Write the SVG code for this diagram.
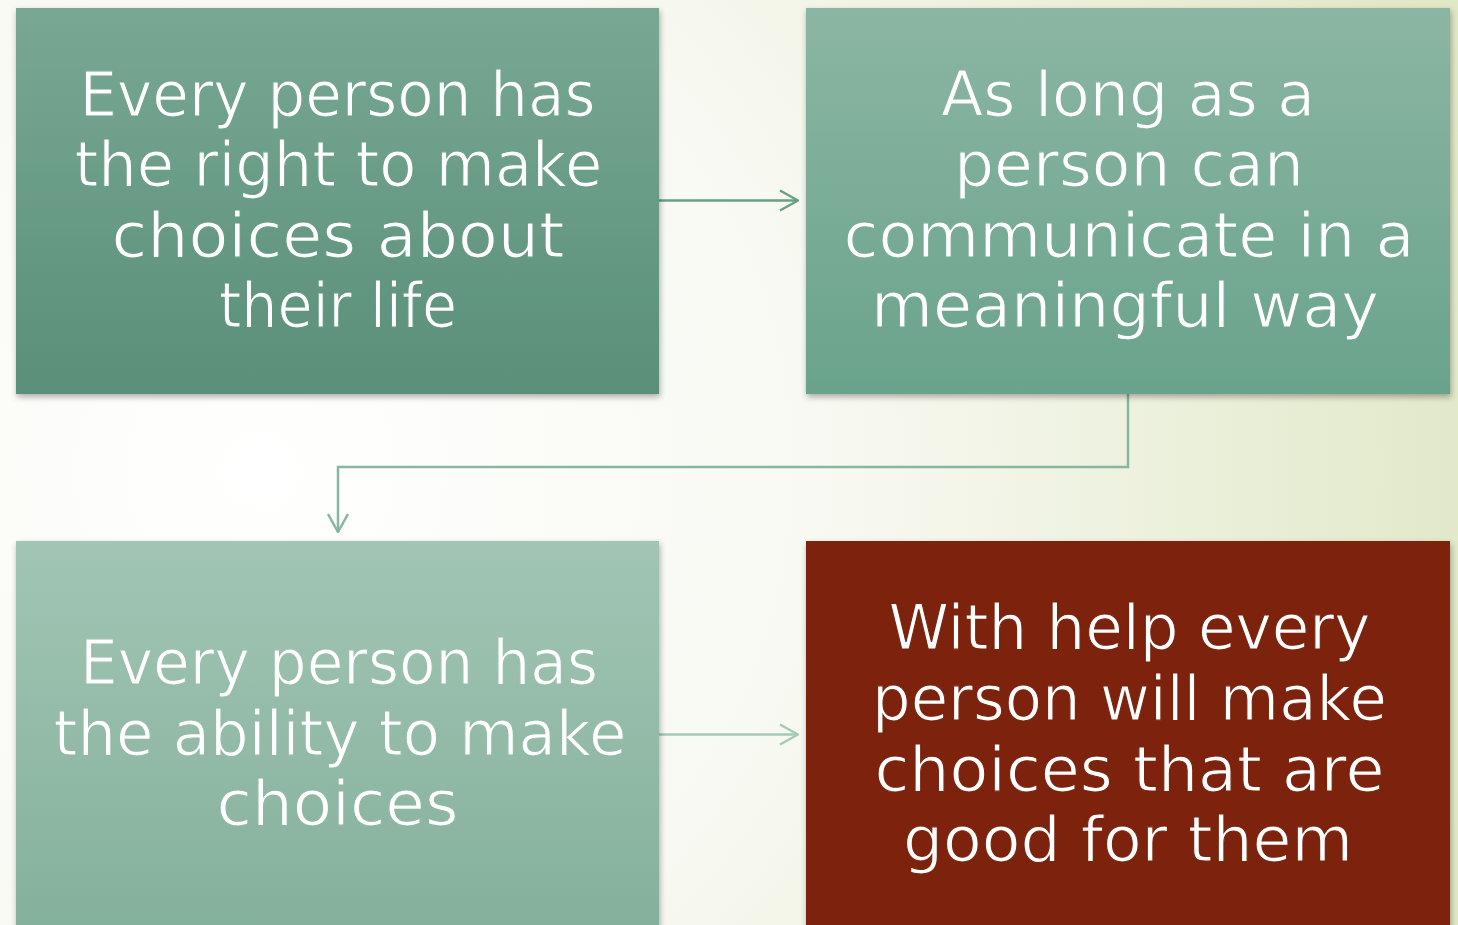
<svg xmlns="http://www.w3.org/2000/svg" width="1458" height="925" viewBox="0 0 1458 925">
  <defs>
    <radialGradient id="bg" gradientUnits="userSpaceOnUse" cx="260" cy="470" r="1250">
      <stop offset="0" stop-color="#ffffff"/>
      <stop offset="0.45" stop-color="#f8f9f2"/>
      <stop offset="1" stop-color="#e0e8c6"/>
    </radialGradient>
    <linearGradient id="g1" gradientUnits="userSpaceOnUse" x1="0" y1="8" x2="0" y2="394">
      <stop offset="0" stop-color="#78a893"/>
      <stop offset="1" stop-color="#5a8f79"/>
    </linearGradient>
    <linearGradient id="g2" gradientUnits="userSpaceOnUse" x1="0" y1="8" x2="0" y2="394">
      <stop offset="0" stop-color="#8bb6a3"/>
      <stop offset="1" stop-color="#6aa38c"/>
    </linearGradient>
    <linearGradient id="g3" gradientUnits="userSpaceOnUse" x1="0" y1="541" x2="0" y2="941">
      <stop offset="0" stop-color="#a2c5b4"/>
      <stop offset="1" stop-color="#83b09b"/>
    </linearGradient>
    <filter id="sh" x="-5%" y="-5%" width="110%" height="115%">
      <feDropShadow dx="1" dy="3" stdDeviation="3" flood-color="#000" flood-opacity="0.32"/>
    </filter>
    <marker id="ah1" viewBox="0 0 20 24" refX="19" refY="12" markerWidth="20" markerHeight="24" markerUnits="userSpaceOnUse" orient="auto">
      <path d="M1,2 L19,12 L1,22" fill="none" stroke="#66a086" stroke-width="2.5"/>
    </marker>
    <marker id="ah2" viewBox="0 0 20 24" refX="19" refY="12" markerWidth="20" markerHeight="24" markerUnits="userSpaceOnUse" orient="auto">
      <path d="M1,2 L19,12 L1,22" fill="none" stroke="#86b7a1" stroke-width="2.5"/>
    </marker>
    <marker id="ah3" viewBox="0 0 20 24" refX="19" refY="12" markerWidth="20" markerHeight="24" markerUnits="userSpaceOnUse" orient="auto">
      <path d="M1,2 L19,12 L1,22" fill="none" stroke="#a4cab7" stroke-width="2.5"/>
    </marker>
  </defs>
  <style>
    .t { font-family: "DejaVu Sans", "Liberation Sans", sans-serif; font-size: 62px; fill: #ffffff; text-anchor: middle; stroke-width: 1.2px; }
    .c { fill: none; stroke-width: 2.5; }
  </style>

  <rect x="0" y="0" width="1458" height="925" fill="url(#bg)"/>

  <g id="connectors">
    <path class="c" d="M659,200.5 H798" stroke="#66a086" marker-end="url(#ah1)"/>
    <path class="c" d="M1128,394 V467 H338 V532" stroke="#86b7a1" marker-end="url(#ah2)"/>
    <path class="c" d="M659,734.5 H798" stroke="#a4cab7" marker-end="url(#ah3)"/>
  </g>

  <g id="node1">
    <rect x="16" y="8" width="643" height="386" fill="url(#g1)" filter="url(#sh)"/>
    <g stroke="url(#g1)">
      <text class="t" x="337.5" y="116" textLength="516" lengthAdjust="spacingAndGlyphs">Every person has</text>
      <text class="t" x="338.5" y="186" textLength="528" lengthAdjust="spacingAndGlyphs">the right to make</text>
      <text class="t" x="338" y="257" textLength="453" lengthAdjust="spacingAndGlyphs">choices about</text>
      <text class="t" x="338" y="327" textLength="238" lengthAdjust="spacingAndGlyphs">their life</text>
    </g>
  </g>

  <g id="node2">
    <rect x="806" y="8" width="644" height="386" fill="url(#g2)" filter="url(#sh)"/>
    <g stroke="url(#g2)">
      <text class="t" x="1128" y="116" textLength="374" lengthAdjust="spacingAndGlyphs">As long as a</text>
      <text class="t" x="1129" y="186" textLength="350" lengthAdjust="spacingAndGlyphs">person can</text>
      <text class="t" x="1129" y="257" textLength="571" lengthAdjust="spacingAndGlyphs">communicate in a</text>
      <text class="t" x="1125" y="327" textLength="508" lengthAdjust="spacingAndGlyphs">meaningful way</text>
    </g>
  </g>

  <g id="node3">
    <rect x="16" y="541" width="643" height="400" fill="url(#g3)" filter="url(#sh)"/>
    <g stroke="url(#g3)">
      <text class="t" x="339" y="684" textLength="518" lengthAdjust="spacingAndGlyphs">Every person has</text>
      <text class="t" x="340" y="755" textLength="573" lengthAdjust="spacingAndGlyphs">the ability to make</text>
      <text class="t" x="337.5" y="825" textLength="242" lengthAdjust="spacingAndGlyphs">choices</text>
    </g>
  </g>

  <g id="node4">
    <rect x="806" y="541" width="644" height="400" fill="#7b240e" filter="url(#sh)"/>
    <g stroke="#7b240e">
      <text class="t" x="1129.5" y="649" textLength="482" lengthAdjust="spacingAndGlyphs">With help every</text>
      <text class="t" x="1129.5" y="720" textLength="515" lengthAdjust="spacingAndGlyphs">person will make</text>
      <text class="t" x="1129.5" y="791" textLength="510" lengthAdjust="spacingAndGlyphs">choices that are</text>
      <text class="t" x="1128" y="861" textLength="450" lengthAdjust="spacingAndGlyphs">good for them</text>
    </g>
  </g>
</svg>
